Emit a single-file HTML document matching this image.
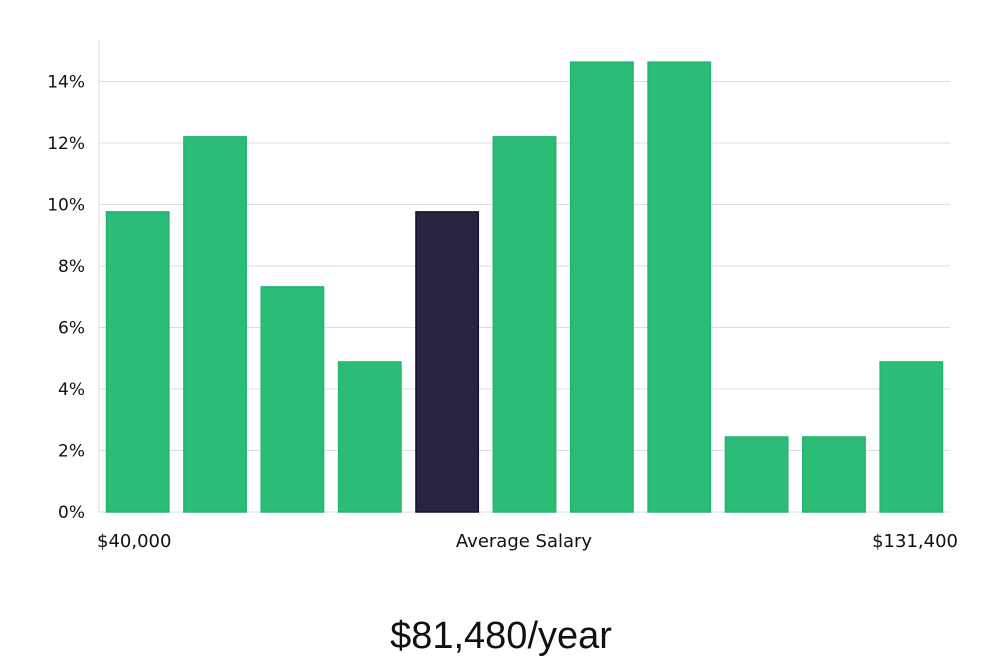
<!DOCTYPE html>
<html><head><meta charset="utf-8"><style>
body{margin:0;background:#fff;width:1000px;height:660px;overflow:hidden;font-family:"DejaVu Sans","Liberation Sans",sans-serif;}
</style></head><body>
<svg id="chart" width="1000" height="660" xmlns="http://www.w3.org/2000/svg"></svg>
<script>
const categories=["b1","b2","b3","b4","b5","b6","b7","b8","b9","b10","b11"];
const values=[9.76,12.2,7.32,4.88,9.76,12.2,14.63,14.63,2.44,2.44,4.88];
const highlight=[false,false,false,false,true,false,false,false,false,false,false];
const yTicks=[0,2,4,6,8,10,12,14];
const yTickLabels=["0%","2%","4%","6%","8%","10%","12%","14%"];
const xLabels=["$40,000","Average Salary","$131,400"];
const svg=document.getElementById('chart');
const NS="http://www.w3.org/2000/svg";
const x0=99,x1=950,y0=512,pxPer=30.75;
const band=(x1-x0)/categories.length;
const y=v=>y0-v*pxPer;
const xb=i=>x0+i*band;
function mk(t,a){const e=document.createElementNS(NS,t);for(const k in a)e.setAttribute(k,a[k]);svg.appendChild(e);return e;}
yTicks.forEach((t,i)=>{
  const g=mk('line',{x1:x0,x2:x1,y1:y(t),y2:y(t),stroke:'#dddddd','stroke-width':1});
  
  
  const l=mk('text',{x:85,y:y(t)+6,'text-anchor':'end','font-size':17,fill:'#111'});
  l.textContent=yTickLabels[i];
  
  
});
const ax=mk('line',{x1:x0,x2:x0,y1:40,y2:y0,stroke:'#dddddd','stroke-width':1});


values.forEach((v,i)=>{
  const r=mk('rect',{x:xb(i)+7.5,y:y(v),width:band-15,height:y0-y(v),fill:highlight[i]?'#28243f':'#2bbd77',stroke:highlight[i]?'#15132a':'#27b36f','stroke-width':1.5});
  
  
});
const xl=[[97,'start'],[524,'middle'],[958,'end']];
xLabels.forEach((s,i)=>{
  const t=mk('text',{x:xl[i][0],y:547,'text-anchor':xl[i][1],'font-size':18,fill:'#111'});
  t.textContent=s;
  
  
});
const s=mk('text',{x:501,y:648,'text-anchor':'middle','font-size':38,fill:'#111','font-family':'"Liberation Sans",sans-serif'});
s.textContent="$81,480/year";


</script>
</body></html>
